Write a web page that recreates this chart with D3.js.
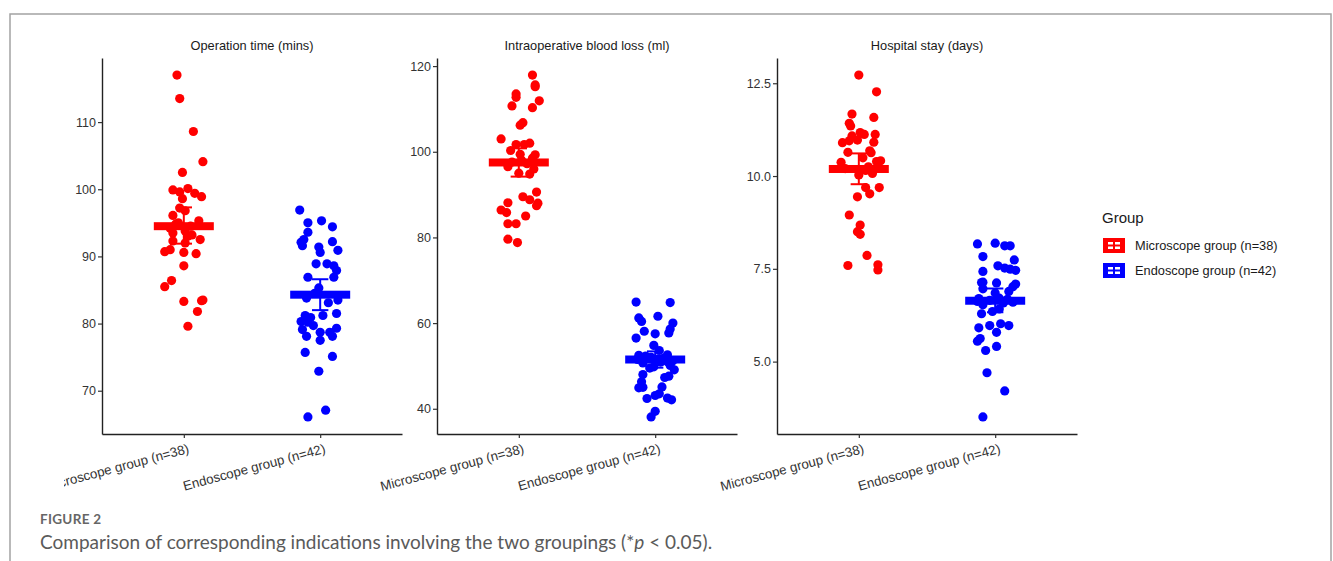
<!DOCTYPE html>
<html>
<head>
<meta charset="utf-8">
<script src="https://cdn.jsdelivr.net/npm/d3@7"></script>
<style>
  body { margin: 0; background: #fff; }
  svg { display: block; }
</style>
</head>
<body>
<script>
// categories and titles
const groups = ["Microscope group (n=38)", "Endoscope group (n=42)"];
const colors = ["#ff0000", "#0000ff"];
const panelTitles = ["Operation time (mins)", "Intraoperative blood loss (ml)", "Hospital stay (days)"];
const opTicks = [70, 80, 90, 100, 110];
const bloodTicks = [40, 60, 80, 100, 120];
const stayTicks = [5, 7.5, 10, 12.5];

// [value, jitter]
const opMicro = [[117.0,-0.05],[113.5,-0.03],[108.6,0.07],[104.1,0.14],[102.5,-0.01],[99.9,-0.08],[100.1,0.03],[99.6,-0.03],[99.4,0.08],[98.9,0.13],[98.6,-0.01],[97.2,-0.03],[96.8,0.01],[96.1,-0.08],[93.5,-0.08],[93.2,0.06],[92.3,-0.08],[92.5,0.12],[90.7,-0.14],[91.0,-0.10],[90.6,0.00],[90.4,0.09],[88.6,0.00],[86.4,-0.09],[85.5,-0.14],[83.3,0.00],[83.4,0.13],[83.5,0.14],[81.8,0.10],[79.6,0.03],[95.0,-0.04],[94.5,0.05],[94.2,-0.10],[95.3,0.11],[93.8,0.01],[94.8,-0.06],[93.0,0.03],[92.0,0.01]];
const opEndo = [[96.9,-0.15],[95.3,0.01],[95.0,-0.09],[94.4,0.09],[93.6,-0.09],[92.5,-0.12],[92.1,-0.14],[92.2,0.09],[91.6,-0.13],[91.4,-0.01],[90.6,0.00],[90.9,0.13],[88.9,-0.03],[88.9,0.05],[88.6,0.10],[87.9,0.12],[86.9,0.10],[86.9,-0.09],[85.3,-0.01],[83.1,0.06],[83.5,0.13],[83.8,-0.10],[81.2,-0.11],[80.9,-0.07],[81.2,0.02],[81.5,0.12],[80.3,-0.14],[80.2,-0.09],[79.7,-0.05],[79.1,-0.13],[79.3,0.12],[78.7,0.00],[78.7,0.07],[78.1,-0.10],[78.1,0.09],[77.5,0.00],[75.7,-0.11],[75.1,0.09],[72.9,-0.01],[67.1,0.04],[66.1,-0.09],[84.5,-0.04]];
const bloodMicro = [[117.9,0.10],[115.6,0.12],[115.2,0.12],[113.5,-0.02],[112.7,-0.02],[111.9,0.15],[110.7,-0.05],[110.3,0.10],[106.8,0.03],[106.2,0.01],[103.0,-0.13],[101.7,-0.02],[101.7,0.04],[102.0,0.08],[100.3,-0.06],[99.4,0.01],[99.3,0.12],[98.5,0.10],[96.5,-0.08],[96.0,0.11],[95.0,0.00],[94.8,0.08],[90.6,0.13],[89.5,0.03],[88.8,0.08],[88.1,-0.08],[88.0,0.14],[87.4,0.13],[86.4,-0.13],[85.8,-0.09],[85.0,0.05],[83.2,-0.08],[83.2,-0.02],[79.6,-0.08],[78.8,-0.01],[97.6,-0.05],[97.2,0.06],[98.0,0.02]];
const bloodEndo = [[64.9,-0.14],[64.8,0.11],[61.6,0.02],[61.2,-0.12],[60.4,-0.10],[60.0,0.13],[58.6,0.11],[57.7,0.10],[58.1,-0.08],[57.5,0.00],[56.5,-0.14],[54.8,-0.01],[53.6,0.03],[52.5,-0.12],[52.6,0.09],[50.7,-0.09],[49.5,-0.04],[49.8,-0.01],[50.1,0.11],[49.1,0.14],[48.0,-0.09],[47.6,0.10],[47.3,0.07],[46.3,-0.10],[45.1,0.05],[44.9,-0.12],[45.0,-0.09],[43.5,0.03],[43.1,0.00],[42.4,-0.06],[42.5,0.09],[42.1,0.12],[39.4,0.00],[38.1,-0.03],[51.5,-0.13],[51.8,0.06],[51.2,0.13],[52.0,-0.03],[51.0,0.09],[51.6,0.02],[52.3,-0.07],[50.9,0.04]];
const stayMicro = [[12.72,0.00],[12.27,0.13],[11.67,-0.05],[11.58,0.11],[11.42,-0.07],[11.35,-0.06],[11.17,0.01],[11.12,0.04],[11.12,0.12],[11.08,-0.05],[10.95,-0.07],[10.97,-0.01],[10.90,-0.12],[10.91,0.11],[10.64,-0.08],[10.68,0.08],[10.63,0.09],[10.49,0.03],[10.37,-0.13],[10.39,0.13],[10.41,0.16],[10.03,0.00],[10.07,0.10],[9.69,0.05],[9.69,0.15],[9.52,0.08],[9.44,-0.01],[8.95,-0.07],[8.68,0.01],[8.50,-0.01],[8.43,0.01],[7.86,0.06],[7.59,-0.08],[7.61,0.14],[7.47,0.14],[10.20,-0.10],[10.15,0.05],[10.25,0.07]];
const stayEndo = [[8.17,-0.13],[8.19,0.00],[8.12,0.07],[8.12,0.11],[7.83,-0.09],[7.74,0.14],[7.58,0.02],[7.52,0.07],[7.49,0.11],[7.46,0.15],[7.43,-0.09],[7.14,-0.09],[7.13,-0.10],[7.12,0.01],[7.09,0.15],[7.02,0.13],[6.89,0.10],[6.96,-0.09],[6.85,0.00],[6.71,0.03],[6.62,-0.13],[6.53,-0.09],[6.42,0.03],[6.35,-0.02],[6.29,-0.10],[6.02,0.04],[5.97,0.10],[5.97,-0.04],[5.91,-0.12],[5.79,0.01],[5.62,-0.11],[5.55,-0.13],[5.41,0.01],[5.30,-0.07],[4.70,-0.06],[4.21,0.07],[3.51,-0.09],[6.65,-0.04],[6.68,0.09],[6.60,0.13],[6.70,-0.12],[6.58,0.06]];

// [mean, low, high] per group
const opStats = [[94.5, 91.9, 97.3], [84.3, 82.0, 86.6]];
const bloodStats = [[97.5, 94.2, 100.8], [51.5, 49.6, 53.4]];
const stayStats = [[10.19, 9.78, 10.61], [6.64, 6.33, 6.97]];

const panels = [
  { title: panelTitles[0], pts: [opMicro, opEndo], stats: opStats, ticks: opTicks, fmt: d3.format("d") },
  { title: panelTitles[1], pts: [bloodMicro, bloodEndo], stats: bloodStats, ticks: bloodTicks, fmt: d3.format("d") },
  { title: panelTitles[2], pts: [stayMicro, stayEndo], stats: stayStats, ticks: stayTicks, fmt: d3.format(".1f") }
];

const width = 1333, height = 561,
      panelLeft = [102, 437, 777],
      pw = 300, plotTop = 58, plotBottom = 434;

const svg = d3.select("body").append("svg")
  .attr("width", width).attr("height", height)
  .style("font-family", "'Liberation Sans', Arial, sans-serif");

svg.append("rect").attr("width", width).attr("height", height).attr("fill", "#fff");

// frame of the figure box
svg.append("path")
  .attr("d", "M10,561V14H1331V561")
  .attr("fill", "none").attr("stroke", "#a3a3a3").attr("stroke-width", 1.5);

svg.append("clipPath").attr("id", "figclip")
  .append("rect").attr("x", 64).attr("y", 15).attr("width", 1260).attr("height", 480);

const fig = svg.append("g").attr("clip-path", "url(#figclip)");

const x = d3.scaleLinear().domain([0.4, 2.6]).range([0, pw]);

panels.forEach((p, pi) => {
  const g = fig.append("g").attr("transform", `translate(${panelLeft[pi]},0)`);
  const all = p.pts.flat().map(d => d[0]);
  const [lo, hi] = d3.extent(all), pad = (hi - lo) * 0.05;
  const y = d3.scaleLinear().domain([lo - pad, hi + pad]).range([plotBottom, plotTop]);

  // title
  g.append("text")
    .attr("x", pw / 2).attr("y", 50)
    .attr("text-anchor", "middle")
    .attr("font-size", 12.8).attr("fill", "#1a1a1a")
    .text(p.title);

  // points
  p.pts.forEach((set, gi) => {
    g.selectAll(null).data(set).enter().append("circle")
      .attr("cx", d => x(gi + 1 + d[1]))
      .attr("cy", d => y(d[0]))
      .attr("r", 4.6)
      .attr("fill", colors[gi]);
  });

  // mean bar + error bar
  p.stats.forEach((s, gi) => {
    const c = gi + 1;
    g.append("rect")
      .attr("x", x(c - 0.22)).attr("width", x(c + 0.22) - x(c - 0.22))
      .attr("y", y(s[0]) - 4).attr("height", 8)
      .attr("fill", colors[gi]);
    g.append("line")
      .attr("x1", x(c)).attr("x2", x(c))
      .attr("y1", y(s[1])).attr("y2", y(s[2]))
      .attr("stroke", colors[gi]).attr("stroke-width", 2);
    [s[1], s[2]].forEach(v => {
      g.append("line")
        .attr("x1", x(c - 0.06)).attr("x2", x(c + 0.06))
        .attr("y1", y(v)).attr("y2", y(v))
        .attr("stroke", colors[gi]).attr("stroke-width", 2);
    });
  });

  // axes
  const yAxis = g.append("g")
    .call(d3.axisLeft(y).tickValues(p.ticks).tickFormat(p.fmt).tickSize(4).tickSizeOuter(0));
  const xAxis = g.append("g").attr("transform", `translate(0,${plotBottom})`)
    .call(d3.axisBottom(x).tickValues([1, 2]).tickFormat((d, i) => groups[i]).tickSize(4).tickSizeOuter(0));

  [yAxis, xAxis].forEach(a => {
    a.select(".domain").attr("stroke", "#222").attr("stroke-width", 1.4);
    a.selectAll(".tick line").attr("stroke", "#333").attr("stroke-width", 1.2);
    a.selectAll("text").attr("fill", "#333").attr("font-family", "'Liberation Sans', Arial, sans-serif");
  });
  yAxis.selectAll("text").attr("x", -6).attr("font-size", 12.5);

  xAxis.selectAll(".tick text")
    .attr("font-size", 13.3)
    .attr("text-anchor", "end")
    .attr("y", 0).attr("dy", "0.75em")
    .attr("transform", "translate(3,9) rotate(-15)");
});

// legend
const leg = fig.append("g").attr("transform", "translate(1102,0)");
leg.append("text").attr("x", 0).attr("y", 223)
  .attr("font-size", 15).attr("fill", "#1a1a1a").text("Group");
groups.forEach((name, i) => {
  const ky = 238 + i * 25;
  const k = leg.append("g").attr("transform", `translate(1,${ky})`);
  k.append("rect").attr("width", 22).attr("height", 15).attr("fill", colors[i]);
  k.append("rect").attr("x", 5).attr("y", 4).attr("width", 12).attr("height", 7).attr("fill", "#fff");
  k.append("rect").attr("x", 5).attr("y", 6.5).attr("width", 12).attr("height", 2).attr("fill", colors[i]);
  k.append("rect").attr("x", 10).attr("y", 4).attr("width", 2).attr("height", 7).attr("fill", colors[i]);
  leg.append("text").attr("x", 33).attr("y", ky + 12)
    .attr("font-size", 12.8).attr("fill", "#1a1a1a").text(name);
});

// caption
svg.append("text").attr("x", 40).attr("y", 524)
  .attr("font-family", "Lato, 'Open Sans', sans-serif")
  .attr("font-size", 13.5).attr("font-weight", 700).attr("fill", "#666")
  .attr("letter-spacing", 0.3)
  .text("FIGURE 2");
const cap = svg.append("text").attr("x", 40).attr("y", 549)
  .attr("font-family", "Lato, 'Open Sans', sans-serif")
  .attr("font-size", 19).attr("fill", "#5a5a5a");
cap.append("tspan").text("Comparison of corresponding indications involving the two groupings (*");
cap.append("tspan").attr("font-style", "italic").text("p");
cap.append("tspan").text(" < 0.05).");
</script>
</body>
</html>
